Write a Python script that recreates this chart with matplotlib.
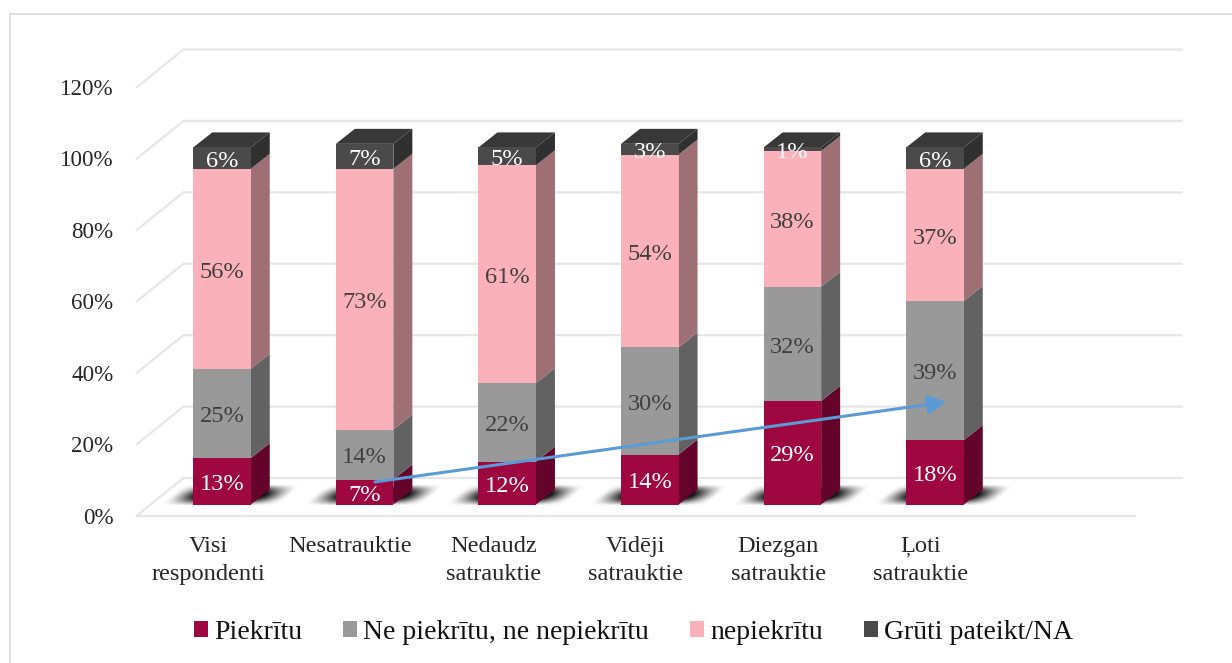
import numpy as np
import matplotlib
matplotlib.use("Agg")
import matplotlib.pyplot as plt
from matplotlib.lines import Line2D
from matplotlib.patches import Patch

plt.rcParams['font.family'] = ['Liberation Serif', 'DejaVu Serif']

categories = ["Visi\nrespondenti", "Nesatrauktie", "Nedaudz\nsatrauktie",
              "Vidēji\nsatrauktie", "Diezgan\nsatrauktie", "Ļoti\nsatrauktie"]
series_names = ["Piekrītu", "Ne piekrītu, ne nepiekrītu", "nepiekrītu", "Grūti pateikt/NA"]
piekritu = [13, 7, 12, 14, 29, 18]
neitrali = [25, 14, 22, 30, 32, 39]
nepiekritu = [56, 73, 61, 54, 38, 37]
gruti = [6, 7, 5, 3, 1, 6]
series_values = [piekritu, neitrali, nepiekritu, gruti]
y_ticks = [0, 20, 40, 60, 80, 100, 120]
trend_start = (1.073, 9.4)
trend_end = (5.077, 31.8)

front_cols = ["#9E073F", "#999999", "#FBB1B9", "#4A4A4A"]
side_cols = ["#65042A", "#626262", "#9E7076", "#303030"]
top_col = "#383838"
label_cols = ["white", "#404040", "#404040", "white"]
grid_col = "#E6E6E6"

W, H = 1232, 663
fig = plt.figure(figsize=(W / 100, H / 100), dpi=100)

# frame of the picture
for xs, ys in (([9.5, 9.5], [663, 13.5]), ([9.5, 1232], [13.5, 13.5])):
    fig.add_artist(Line2D([x / W for x in xs], [1 - y / H for y in ys], color="#D9D9D9", lw=1.1))

ax_l, ax_r, ax_b, ax_t = 137, 1135, 515.5, 87
ax = fig.add_axes([ax_l / W, 1 - ax_b / H, (ax_r - ax_l) / W, (ax_b - ax_t) / H])
px_x = 142.6  # pixels per category
px_y = (ax_b - ax_t) / 120  # pixels per percent
xlim = ((ax_l - 222) / px_x, (ax_r - 222) / px_x)
ax.patch.set_alpha(0)
for s in ax.spines.values():
    s.set_visible(False)

# walls and floor
gx, gy = 46.5 / px_x, 37.5 / px_y
for t in y_ticks:
    ax.plot([xlim[0], xlim[0] + gx, xlim[1] + gx], [t, t + gy, t + gy], color=grid_col, lw=1.6,
            clip_on=False, zorder=1, solid_joinstyle="miter")
ax.plot([xlim[0], xlim[1]], [0, 0], color=grid_col, lw=1.6, clip_on=False, zorder=1)

# bars
x_pos = np.arange(len(categories), dtype=float)
bw = 57.5 / px_x
base = 11 / px_y
dx, dy = 19 / px_x, 15 / px_y

# soft floor shadows
uu, vv = np.meshgrid(np.linspace(-32, 120, 153), np.linspace(-1, 21, 45))
ss = uu - vv * 1.2
shape = np.clip(1 - ((ss - 27) / 60) ** 2, 0, 1) * np.clip(1 - ((vv - 9) / 11) ** 2, 0, 1)
rgba = np.zeros(shape.shape + (4,))
rgba[..., 3] = np.clip(shape * 1.5, 0, 1) ** 1.5 * 0.92
for xp in x_pos:
    left = xp - bw / 2
    ax.imshow(rgba, origin="lower", aspect="auto", zorder=2, interpolation="bilinear",
              extent=(left - 32 / px_x, left + 120 / px_x, base - 1 / px_y, base + 21 / px_y), clip_on=False)

for i, xp in enumerate(x_pos):
    bottom = base
    l, r = xp - bw / 2, xp + bw / 2
    for k, vals in enumerate(series_values):
        v = vals[i]
        z = 3 + i * 0.1
        ax.fill([r, r + dx, r + dx, r], [bottom, bottom + dy, bottom + v + dy, bottom + v],
                color=side_cols[k], lw=0, zorder=z, clip_on=False)
        ax.bar(xp, v, width=bw, bottom=bottom, color=front_cols[k], lw=0, zorder=z + 0.01, clip_on=False)
        ax.text(xp, bottom + v / 2 - 3.2 / px_y, f"{v}%", ha="center", va="center", fontsize=17.6,
                color=label_cols[k], zorder=8)
        bottom += v
    ax.fill([l, l + dx, r + dx, r], [bottom, bottom + dy, bottom + dy, bottom],
            color=top_col, lw=0, zorder=3 + i * 0.1, clip_on=False)

ax.annotate("", xy=trend_end, xytext=trend_start, zorder=7,
            arrowprops=dict(arrowstyle="-|>,head_length=1.1,head_width=0.58", mutation_scale=10,
                            color="#5B9BD5", lw=2.2, shrinkA=0, shrinkB=0))

ax.set_xlim(*xlim)
ax.set_ylim(0, 120)
ax.set_xticks(x_pos - 14 / px_x)
ax.set_xticklabels(categories, fontsize=17.6, color="#262626", linespacing=1.42)
ax.set_yticks(y_ticks)
ax.set_yticklabels([f"{t}%" for t in y_ticks], fontsize=16.6, color="#262626")
ax.tick_params(axis="x", length=0, pad=15)
ax.tick_params(axis="y", length=0, pad=17)

handles = [Patch(facecolor=c, edgecolor="none") for c in front_cols]
fig.legend(handles, series_names, loc="center", bbox_to_anchor=(633.5 / W, 1 - 632.5 / H), ncol=4,
           frameon=False, fontsize=20, handlelength=0.5, handleheight=0.5,
           handletextpad=0.22, columnspacing=1.48, labelcolor="#111111", borderpad=0)

fig.savefig("out.png", dpi=100)
